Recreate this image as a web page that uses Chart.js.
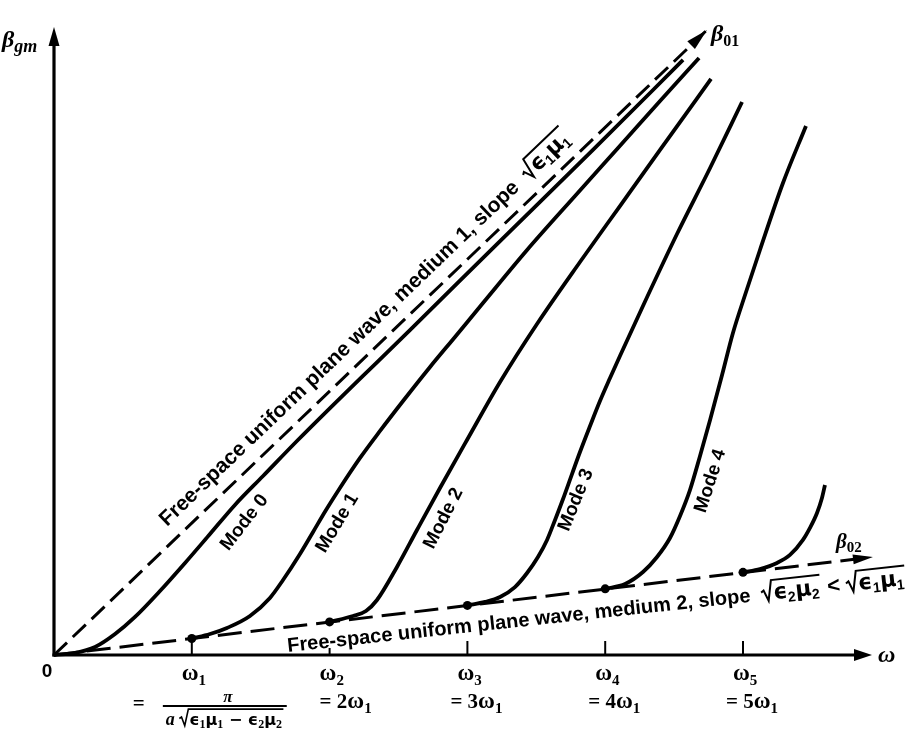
<!DOCTYPE html>
<html><head><meta charset="utf-8">
<style>html,body{margin:0;padding:0;background:#fff;}#wrap{width:918px;height:729px;}</style>
<script src="https://cdn.jsdelivr.net/npm/chart.js@4.4.0/dist/chart.umd.min.js"></script>
</head><body><div id="wrap"><canvas id="c" width="918" height="729"></canvas></div>
<script>
// ω in units of ω1, β in the same graph units
const medium1Omega = [0, 4.739];
const medium1Beta  = [0, 4.536];
const medium2Omega = [0, 5.943];
const medium2Beta  = [0, 0.711];

const mode0Omega = [0, 0.152, 0.298, 0.443, 0.588, 0.769, 0.951, 1.132, 1.313, 1.517, 1.763, 2.003, 2.242, 2.583, 3.237, 3.911, 4.565];
const mode0Beta  = [0, 0.015, 0.058, 0.152, 0.276, 0.464, 0.668, 0.878, 1.089, 1.299, 1.553, 1.792, 2.025, 2.358, 3.004, 3.665, 4.318];

const mode1Omega = [1.0, 1.132, 1.255, 1.422, 1.567, 1.662, 1.785, 1.880, 1.974, 2.075, 2.221, 2.366, 2.533, 2.729, 2.910, 3.113, 3.433, 3.781, 4.093, 4.398, 4.681];
const mode1Beta  = [0.12, 0.152, 0.196, 0.283, 0.414, 0.544, 0.733, 0.893, 1.052, 1.212, 1.430, 1.626, 1.843, 2.090, 2.308, 2.554, 2.939, 3.331, 3.679, 4.020, 4.332];

const mode2Omega = [2.0, 2.170, 2.264, 2.344, 2.489, 2.634, 2.801, 2.997, 3.237, 3.505, 3.817, 4.107, 4.398, 4.768];
const mode2Beta  = [0.24, 0.283, 0.319, 0.399, 0.639, 0.907, 1.212, 1.560, 1.981, 2.402, 2.852, 3.258, 3.665, 4.180];

const mode3Omega = [3.0, 3.128, 3.237, 3.345, 3.433, 3.512, 3.578, 3.636, 3.694, 3.759, 3.817, 3.890, 3.962, 4.035, 4.107, 4.274, 4.521, 4.761, 4.993];
const mode3Beta  = [0.36, 0.385, 0.421, 0.493, 0.595, 0.711, 0.835, 0.980, 1.132, 1.313, 1.473, 1.662, 1.843, 2.010, 2.170, 2.533, 3.055, 3.534, 4.013];

const mode4Omega = [4.0, 4.144, 4.274, 4.376, 4.470, 4.543, 4.615, 4.688, 4.761, 4.848, 4.927, 5.022, 5.123, 5.290, 5.457];
const mode4Beta  = [0.48, 0.515, 0.602, 0.711, 0.849, 1.009, 1.197, 1.444, 1.705, 2.032, 2.337, 2.634, 2.939, 3.425, 3.839];

const mode5Omega = [5.0, 5.123, 5.247, 5.341, 5.435, 5.486, 5.537, 5.573, 5.595];
const mode5Beta  = [0.60, 0.624, 0.668, 0.726, 0.835, 0.922, 1.030, 1.139, 1.234];

const cutoffOmega = [1, 2, 3, 4, 5];
const cutoffBeta  = [0.12, 0.24, 0.36, 0.48, 0.60];

const tickOmega = [1, 2, 3, 4, 5];
const tickSubs  = ['1', '2', '3', '4', '5'];
const tickMultiples = ['', '2', '3', '4', '5'];
const modeNames = ['Mode 0', 'Mode 1', 'Mode 2', 'Mode 3', 'Mode 4'];

// ---- label placement (data coords + angle in degrees) ----
const modeLabelPos = [
  {x: 1.382, y: 0.962, a: 52},
  {x: 2.057, y: 0.958, a: 59},
  {x: 2.827, y: 0.991, a: 63},
  {x: 3.788, y: 1.125, a: 68},
  {x: 4.764, y: 1.263, a: 72}
];

const pts = (xs, ys) => xs.map((v, i) => ({x: v, y: ys[i]}));

const SANS = '"Liberation Sans", Arial, sans-serif';
const SERIF = '"Liberation Serif", "DejaVu Serif", serif';
const GREEK = '"DejaVu Sans", sans-serif';

function drawRad(ctx, x, y, s, innerW) {
  ctx.beginPath();
  ctx.moveTo(x, y - 0.36 * s);
  ctx.lineTo(x + 0.12 * s, y - 0.44 * s);
  ctx.lineTo(x + 0.3 * s, y + 0.04 * s);
  ctx.lineTo(x + 0.5 * s, y - 0.88 * s);
  ctx.lineTo(x + 0.55 * s + innerW + 0.08 * s, y - 0.88 * s);
  ctx.stroke();
}
function seq(ctx, parts, x, y, draw) {
  for (const p of parts) {
    if (p.rad) {
      const s = p.s;
      const w = seq(ctx, p.rad, 0, 0, false);
      if (draw) { ctx.lineWidth = p.lw || 1.8; drawRad(ctx, x, y, s, w); }
      x = seq(ctx, p.rad, x + 0.55 * s, y, draw);
      x += 0.1 * s;
    } else {
      ctx.font = p.f;
      if (draw) ctx.fillText(p.t, x, y + (p.dy || 0));
      x += ctx.measureText(p.t).width + (p.sp || 0);
    }
  }
  return x;
}
function arrowHead(ctx, tx, ty, ang, len, hw) {
  const c = Math.cos(ang), s = Math.sin(ang);
  const bx = tx - len * c, by = ty - len * s;
  ctx.beginPath();
  ctx.moveTo(tx, ty);
  ctx.lineTo(bx - hw * s, by + hw * c);
  ctx.lineTo(bx + hw * s, by - hw * c);
  ctx.closePath();
  ctx.fill();
}

const annot = {
  id: 'annot',
  afterDatasetsDraw(chart) {
    const {ctx} = chart;
    const xs = chart.scales.x, ys = chart.scales.y;
    const X = v => xs.getPixelForValue(v), Y = v => ys.getPixelForValue(v);
    ctx.save();
    ctx.fillStyle = '#000'; ctx.strokeStyle = '#000';
    ctx.textAlign = 'left'; ctx.textBaseline = 'alphabetic';
    const ox = X(0), oy = Y(0);

    // axes
    ctx.lineWidth = 3.2;
    ctx.beginPath(); ctx.moveTo(ox, oy + 1.6); ctx.lineTo(ox, Y(4.557) + 12); ctx.stroke();
    arrowHead(ctx, ox, Y(4.557), -Math.PI / 2, 19, 5.5);
    ctx.lineWidth = 3;
    ctx.beginPath(); ctx.moveTo(ox - 1.6, oy); ctx.lineTo(X(5.936) - 12, oy); ctx.stroke();
    arrowHead(ctx, X(5.936), oy, 0, 18, 6);

    // arrow heads on the free-space lines
    const a1 = Math.atan2(Y(medium1Beta[1]) - oy, X(medium1Omega[1]) - ox);
    arrowHead(ctx, X(medium1Omega[1]), Y(medium1Beta[1]), a1, 22, 5.5);
    const a2 = Math.atan2(Y(medium2Beta[1]) - oy, X(medium2Omega[1]) - ox);
    arrowHead(ctx, X(medium2Omega[1]), Y(medium2Beta[1]), a2, 20, 5);

    // ticks
    ctx.lineWidth = 2;
    tickOmega.forEach((w, i) => {
      const px = X(w);
      const top = i === 0 ? Y(cutoffBeta[0]) : (i === 1 ? oy - 7 : oy - 14);
      ctx.beginPath(); ctx.moveTo(px, oy); ctx.lineTo(px, top); ctx.stroke();
    });

    // tick labels
    const OM = 'bold 23px ' + SERIF, SUB = 'bold 15px ' + SERIF, EQ = 'bold 21px ' + SERIF;
    tickOmega.forEach((w, i) => {
      const px = X(w);
      seq(ctx, [{t: 'ω', f: OM}, {t: tickSubs[i], f: SUB, dy: 5}], px - 10, 680, true);
      if (i > 0) {
        seq(ctx, [{t: '= ' + tickMultiples[i], f: EQ}, {t: 'ω', f: OM}, {t: '1', f: SUB, dy: 5}], px - (i === 1 ? 10 : 17), 708, true);
      }
    });
    // fraction under ω1
    const p1 = X(1);
    ctx.font = EQ; ctx.fillText('=', p1 - 59, 710);
    const DI = 'bold italic 18px ' + SERIF, DG = 'bold 16px ' + GREEK, DS = 'bold 12px ' + SERIF;
    const den = [{t: 'a ', f: DI}, {rad: [
      {t: 'ϵ', f: DG}, {t: '1', f: DS, dy: 3}, {t: 'μ', f: DG}, {t: '1', f: DS, dy: 3},
      {t: ' − ', f: DG}, {t: 'ϵ', f: DG}, {t: '2', f: DS, dy: 3}, {t: 'μ', f: DG}, {t: '2', f: DS, dy: 3}], s: 18, lw: 1.6}];
    const dw = seq(ctx, den, 0, 0, false);
    const fc = p1 + 33;
    seq(ctx, den, fc - dw / 2, 725, true);
    ctx.lineWidth = 1.8;
    ctx.beginPath(); ctx.moveTo(fc - dw / 2 - 3, 706); ctx.lineTo(fc + dw / 2 + 3, 706); ctx.stroke();
    ctx.font = 'bold italic 17px ' + SERIF; ctx.textAlign = 'center';
    ctx.fillText('π', fc + 3, 702);
    ctx.textAlign = 'left';

    // origin and axis labels
    ctx.font = 'bold 19px ' + SANS; ctx.textAlign = 'center';
    ctx.fillText('0', ox - 7, 677);
    ctx.textAlign = 'left';
    ctx.font = 'bold italic 24px ' + SERIF; ctx.fillText('ω', 878, 662);
    const BI = 'bold italic 24px ' + SERIF;
    seq(ctx, [{t: 'β', f: BI}, {t: 'gm', f: 'bold italic 18px ' + SERIF, dy: 5}], 2, 47, true);
    seq(ctx, [{t: 'β', f: BI}, {t: '01', f: 'bold 16px ' + SERIF, dy: 5}], 711, 41, true);
    seq(ctx, [{t: 'β', f: 'bold italic 21px ' + SERIF}, {t: '02', f: 'bold 15px ' + SERIF, dy: 4}], 836, 548, true);

    // free-space label, medium 1
    const G = 'bold 22px ' + GREEK, S = 'bold 14px ' + SANS;
    ctx.save();
    ctx.translate(X(0.820), Y(0.929));
    ctx.rotate(a1);
    seq(ctx, [{t: 'Free-space uniform plane wave, medium 1, slope  ', f: 'bold 21px ' + SANS},
      {rad: [{t: 'ϵ', f: G}, {t: '1', f: S, dy: 4}, {t: 'μ', f: G}, {t: '1', f: S, dy: 4}], s: 22, lw: 2}], 0, 0, true);
    ctx.restore();

    // free-space label, medium 2
    ctx.save();
    ctx.translate(X(1.698), Y(0.0218));
    ctx.rotate(-6.2 * Math.PI / 180);
    seq(ctx, [{t: 'Free-space uniform plane wave, medium 2, slope  ', f: 'bold 20px ' + SANS},
      {rad: [{t: 'ϵ', f: G}, {t: '2', f: S, dy: 4}, {t: 'μ', f: G}, {t: '2', f: S, dy: 4}], s: 22, lw: 2},
      {t: ' < ', f: 'bold 22px ' + SANS},
      {rad: [{t: 'ϵ', f: G}, {t: '1', f: S, dy: 4}, {t: 'μ', f: G}, {t: '1', f: S, dy: 4}], s: 22, lw: 2}], 0, 0, true);
    ctx.restore();

    // mode labels
    ctx.font = 'bold 19px ' + SANS; ctx.textAlign = 'center'; ctx.textBaseline = 'middle';
    modeNames.forEach((n, i) => {
      const p = modeLabelPos[i];
      ctx.save();
      ctx.translate(X(p.x), Y(p.y));
      ctx.rotate(-p.a * Math.PI / 180);
      ctx.fillText(n, 0, 0);
      ctx.restore();
    });
    ctx.restore();
  }
};

const curve = (xs, ysArr) => ({
  data: pts(xs, ysArr), showLine: true, borderColor: '#000', borderWidth: 3.8,
  pointRadius: 0, cubicInterpolationMode: 'monotone', fill: false, clip: false
});
const dashed = (xs, ysArr, dash) => ({
  data: pts(xs, ysArr), showLine: true, borderColor: '#000', borderWidth: 3,
  borderDash: dash, pointRadius: 0, tension: 0, fill: false, clip: false
});

new Chart(document.getElementById('c'), {
  type: 'scatter',
  data: {
    datasets: [
      dashed(medium1Omega, medium1Beta, [18, 8]),
      dashed(medium2Omega, medium2Beta, [24, 9]),
      curve(mode0Omega, mode0Beta),
      curve(mode1Omega, mode1Beta),
      curve(mode2Omega, mode2Beta),
      curve(mode3Omega, mode3Beta),
      curve(mode4Omega, mode4Beta),
      curve(mode5Omega, mode5Beta),
      {data: pts(cutoffOmega, cutoffBeta), showLine: false, pointRadius: 4.5,
       pointBackgroundColor: '#000', pointBorderWidth: 0, clip: false}
    ]
  },
  options: {
    responsive: false, animation: false, devicePixelRatio: 1, events: [],
    layout: {padding: {left: 54, right: 37.2, top: 21.1, bottom: 74}},
    plugins: {legend: {display: false}, tooltip: {enabled: false}},
    scales: {
      x: {type: 'linear', min: 0, max: 6, display: false},
      y: {type: 'linear', min: 0, max: 4.6, display: false}
    }
  },
  plugins: [annot]
});
</script></body></html>
